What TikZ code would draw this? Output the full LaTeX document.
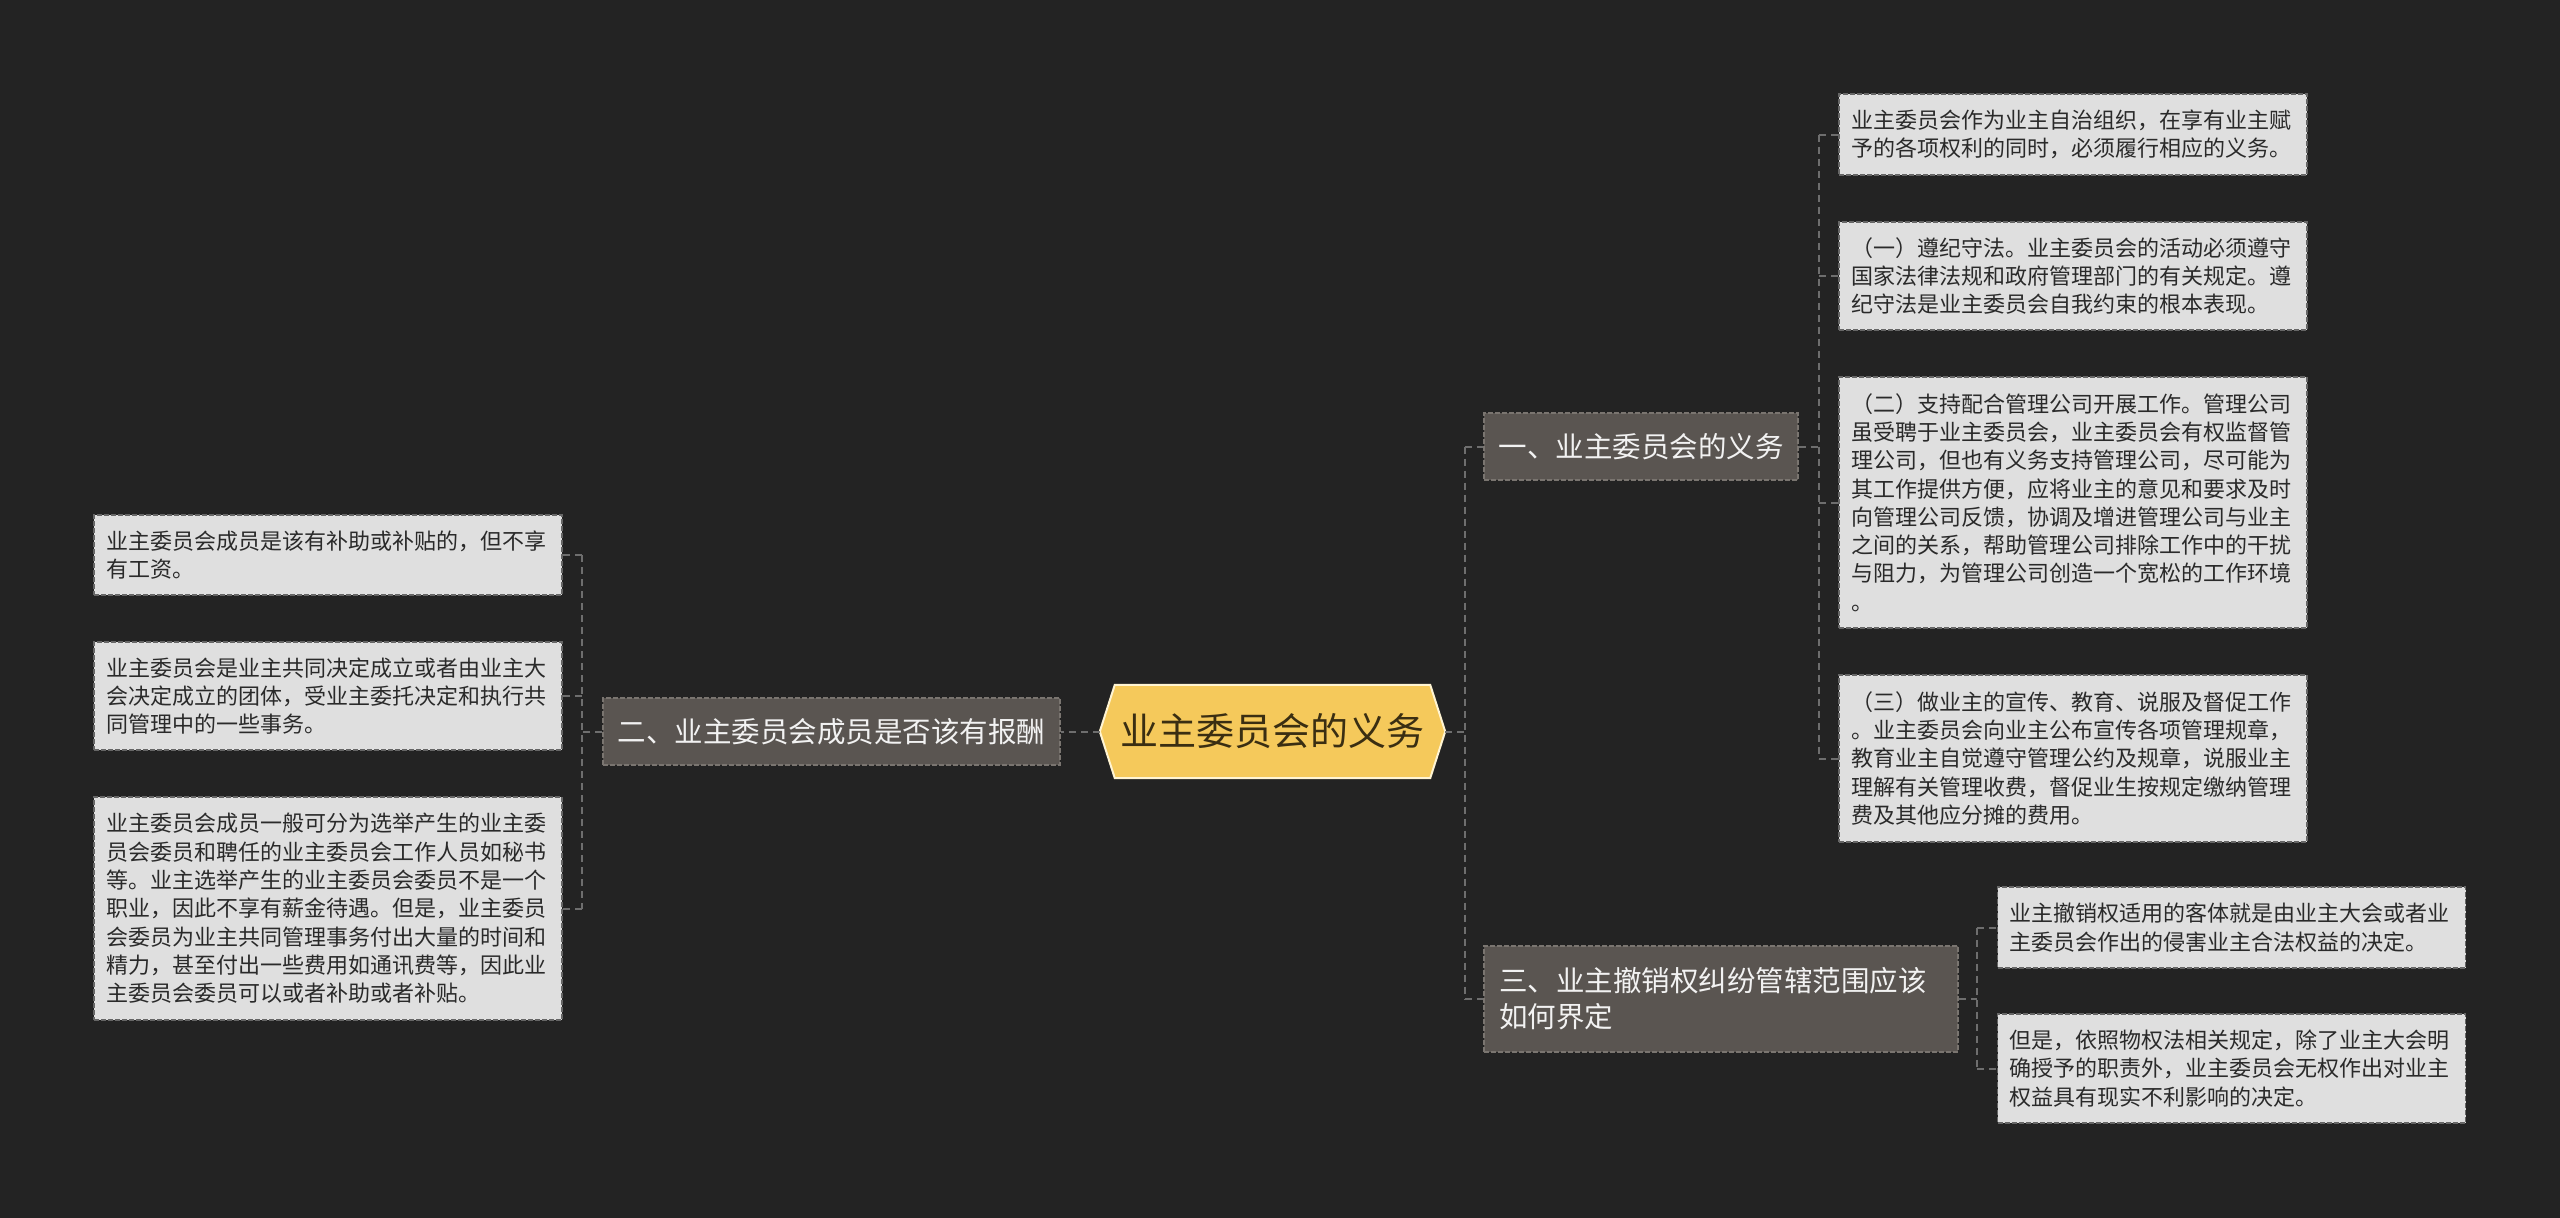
\documentclass[tikz,border=0pt]{standalone}
\usepackage{fontspec}
\newfontfamily\cjk{Noto Sans CJK SC}
\usetikzlibrary{calc}
\definecolor{bgc}{HTML}{232323}
\definecolor{leaffill}{HTML}{DFDFDF}
\definecolor{leafdraw}{HTML}{666666}
\definecolor{leaftext}{HTML}{2A2A2A}
\definecolor{brfill}{HTML}{5A5551}
\definecolor{brdraw}{HTML}{7A7570}
\definecolor{brtext}{HTML}{F2F2F2}
\definecolor{rootfill}{HTML}{F5C95B}
\definecolor{rootdraw}{HTML}{FFF4D2}
\definecolor{roottext}{HTML}{3A2E12}
\definecolor{linec}{HTML}{6E6E6E}
\tikzset{
  leaf/.style={rectangle, fill=leaffill, draw=leafdraw, line width=1.3pt,
    dash pattern=on 5pt off 2pt, text=leaftext, text width=444pt, align=left,
    inner xsep=12pt, inner ysep=0pt,
    font=\cjk\fontsize{22}{28.3}\selectfont},
  branch/.style={rectangle, fill=brfill, draw=brdraw, line width=1.3pt,
    dash pattern=on 5pt off 2pt, text=brtext, inner sep=0pt,
    font=\cjk\fontsize{28.5}{36}\selectfont},
  conn/.style={draw=linec, line width=2pt, dash pattern=on 7pt off 5pt},
}
\begin{document}
\begin{tikzpicture}[x=1pt,y=-1pt]
\fill[bgc] (0,0) rectangle (2560,1218);
\useasboundingbox (0,0) rectangle (2560,1218);

% root
\node[inner sep=0pt, minimum width=345pt, minimum height=93pt] (root) at (1272.5,731.5) {};
\filldraw[fill=rootfill, draw=rootdraw, line width=2pt]
  (root.west) -- ([xshift=15pt]root.north west) -- ([xshift=-15pt]root.north east)
  -- (root.east) -- ([xshift=-15pt]root.south east) -- ([xshift=15pt]root.south west) -- cycle;
\node[text=roottext, font=\cjk\fontsize{38}{44}\selectfont] (roottxt) at (root.center) {业主委员会的义务};

% branches
\node[branch, minimum width=457pt, minimum height=67pt] (b2) at (831.5,731.5) {二、业主委员会成员是否该有报酬};
\node[branch, minimum width=314pt, minimum height=67pt] (b1) at (1641,446.5) {一、业主委员会的义务};
\node[branch, text width=444pt, align=left, inner xsep=15pt, minimum height=106pt] (b3) at (1721,999) {三、业主撤销权纠纷管辖范围应该\\如何界定};

% right leaves of b1
\node[leaf, minimum height=81pt] (r1) at (2073,134.5) {业主委员会作为业主自治组织，在享有业主赋\\予的各项权利的同时，必须履行相应的义务。};
\node[leaf, minimum height=108pt] (r2) at (2073,276) {（一）遵纪守法。业主委员会的活动必须遵守\\国家法律法规和政府管理部门的有关规定。遵\\纪守法是业主委员会自我约束的根本表现。};
\node[leaf, minimum height=251pt] (r3) at (2073,502.5) {（二）支持配合管理公司开展工作。管理公司\\虽受聘于业主委员会，业主委员会有权监督管\\理公司，但也有义务支持管理公司，尽可能为\\其工作提供方便，应将业主的意见和要求及时\\向管理公司反馈，协调及增进管理公司与业主\\之间的关系，帮助管理公司排除工作中的干扰\\与阻力，为管理公司创造一个宽松的工作环境\\。};
\node[leaf, minimum height=167pt] (r4) at (2073,758.5) {（三）做业主的宣传、教育、说服及督促工作\\。业主委员会向业主公布宣传各项管理规章，\\教育业主自觉遵守管理公约及规章，说服业主\\理解有关管理收费，督促业生按规定缴纳管理\\费及其他应分摊的费用。};

% right leaves of b3
\node[leaf, minimum height=81pt] (r5) at (2231.5,927.5) {业主撤销权适用的客体就是由业主大会或者业\\主委员会作出的侵害业主合法权益的决定。};
\node[leaf, minimum height=109pt] (r6) at (2231.5,1068.5) {但是，依照物权法相关规定，除了业主大会明\\确授予的职责外，业主委员会无权作出对业主\\权益具有现实不利影响的决定。};

% left leaves of b2
\node[leaf, minimum height=80pt] (l1) at (328,555) {业主委员会成员是该有补助或补贴的，但不享\\有工资。};
\node[leaf, minimum height=108pt] (l2) at (328,696) {业主委员会是业主共同决定成立或者由业主大\\会决定成立的团体，受业主委托决定和执行共\\同管理中的一些事务。};
\node[leaf, minimum height=223pt] (l3) at (328,908.5) {业主委员会成员一般可分为选举产生的业主委\\员会委员和聘任的业主委员会工作人员如秘书\\等。业主选举产生的业主委员会委员不是一个\\职业，因此不享有薪金待遇。但是，业主委员\\会委员为业主共同管理事务付出大量的时间和\\精力，甚至付出一些费用如通讯费等，因此业\\主委员会委员可以或者补助或者补贴。};

% spine coordinates
\coordinate (sl) at (582,0);
\coordinate (sr) at (1465,0);
\coordinate (s1) at (1819,0);
\coordinate (s3) at (1977,0);

% root -> b2
\draw[conn] (root.west) -- (b2.east);
\draw[conn] (b2.west) -- (sl |- b2.west);
\draw[conn] (sl |- l1.east) -- (sl |- l3.east);
\draw[conn] (sl |- l1.east) -- (l1.east);
\draw[conn] (sl |- l2.east) -- (l2.east);
\draw[conn] (sl |- l3.east) -- (l3.east);

% root -> b1, b3
\draw[conn] (root.east) -- (sr |- root.east);
\draw[conn] (sr |- b1.west) -- (sr |- b3.west);
\draw[conn] (sr |- b1.west) -- (b1.west);
\draw[conn] (sr |- b3.west) -- (b3.west);

% b1 -> r1..r4
\draw[conn] (b1.east) -- (s1 |- b1.east);
\draw[conn] (s1 |- r1.west) -- (s1 |- r4.west);
\draw[conn] (s1 |- r1.west) -- (r1.west);
\draw[conn] (s1 |- r2.west) -- (r2.west);
\draw[conn] (s1 |- r3.west) -- (r3.west);
\draw[conn] (s1 |- r4.west) -- (r4.west);

% b3 -> r5, r6
\draw[conn] (b3.east) -- (s3 |- b3.east);
\draw[conn] (s3 |- r5.west) -- (s3 |- r6.west);
\draw[conn] (s3 |- r5.west) -- (r5.west);
\draw[conn] (s3 |- r6.west) -- (r6.west);
\end{tikzpicture}
\end{document}
